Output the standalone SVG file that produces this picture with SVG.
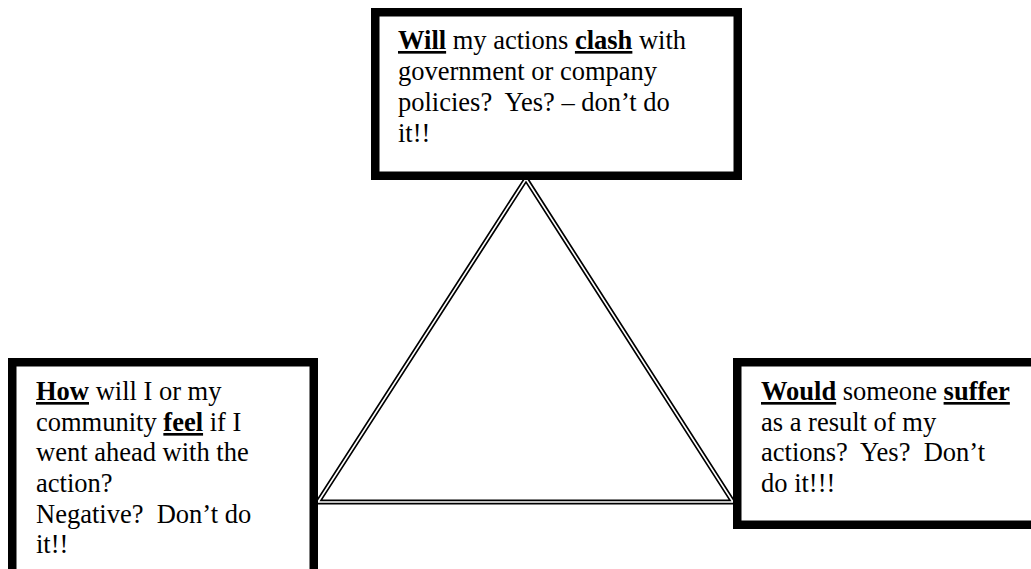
<svg xmlns="http://www.w3.org/2000/svg" width="1031" height="569" viewBox="0 0 1031 569">
  <style>
    .box { fill: #ffffff; stroke: #000000; stroke-width: 8.5; }
    .t { font-family: "Liberation Serif", "Times New Roman", serif; font-size: 26.5px; fill: #000000; }
    .b { font-weight: bold; text-decoration: underline; }
    .outer { fill: none; stroke: #000000; stroke-width: 5; stroke-linejoin: miter; stroke-miterlimit: 10; }
    .inner { fill: none; stroke: #ffffff; stroke-width: 1.6; stroke-linejoin: miter; stroke-miterlimit: 10; }
  </style>
  <rect width="1031" height="569" fill="#ffffff"/>
  <g id="connectors">
    <polygon class="outer" points="526,179 318,502 733,502"/>
    <polygon class="inner" points="526,179 318,502 733,502"/>
  </g>
  <g id="node-top">
    <rect class="box" x="375.25" y="12.25" width="362.5" height="163.5"/>
    <text class="t" x="398" y="49" xml:space="preserve"><tspan class="b">Will</tspan> my actions <tspan class="b">clash</tspan> with</text>
    <text class="t" x="398" y="80" xml:space="preserve">government or company</text>
    <text class="t" x="398" y="111" xml:space="preserve">policies?  Yes? – don’t do</text>
    <text class="t" x="398" y="142" xml:space="preserve">it!!</text>
  </g>
  <g id="node-left">
    <rect class="box" x="12.25" y="362.25" width="301.5" height="220"/>
    <text class="t" x="36" y="400" xml:space="preserve"><tspan class="b">How</tspan> will I or my</text>
    <text class="t" x="36" y="431" xml:space="preserve">community <tspan class="b">feel</tspan> if I</text>
    <text class="t" x="36" y="461" xml:space="preserve">went ahead with the</text>
    <text class="t" x="36" y="492" xml:space="preserve">action?</text>
    <text class="t" x="36" y="523" xml:space="preserve">Negative?  Don’t do</text>
    <text class="t" x="36" y="553" xml:space="preserve">it!!</text>
  </g>
  <g id="node-right">
    <rect class="box" x="737.25" y="362.25" width="310" height="162.5"/>
    <text class="t" x="761" y="400" xml:space="preserve"><tspan class="b">Would</tspan> someone <tspan class="b">suffer</tspan></text>
    <text class="t" x="761" y="431" xml:space="preserve">as a result of my</text>
    <text class="t" x="761" y="461" xml:space="preserve">actions?  Yes?  Don’t</text>
    <text class="t" x="761" y="492" xml:space="preserve">do it!!!</text>
  </g>
</svg>
